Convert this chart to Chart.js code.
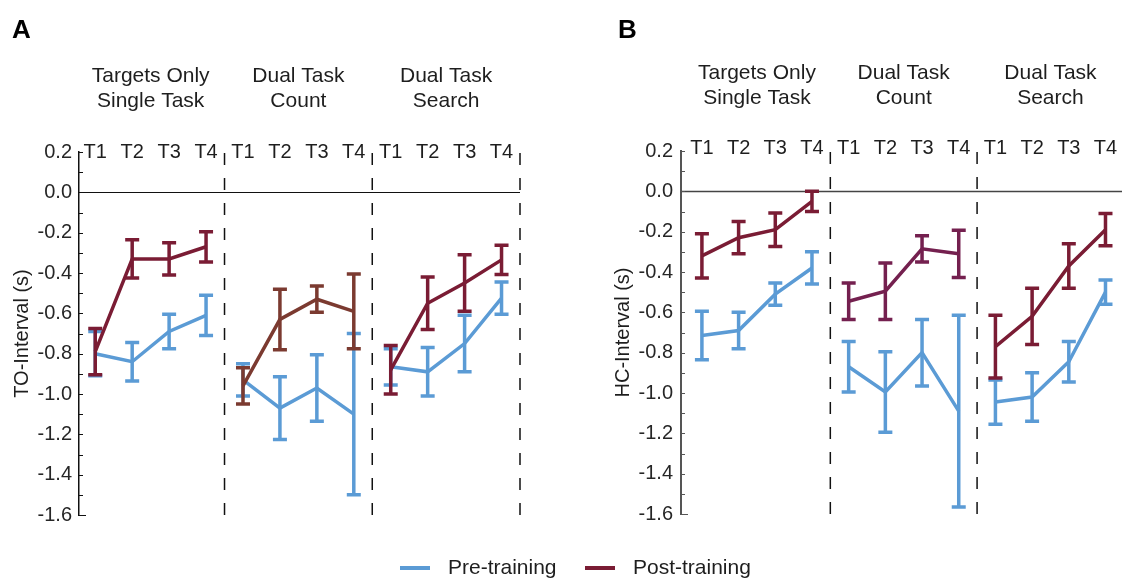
<!DOCTYPE html>
<html>
<head>
<meta charset="utf-8">
<script src="https://cdn.jsdelivr.net/npm/chart.js@4.4.1/dist/chart.umd.min.js"></script>
<style>
  html, body { margin: 0; padding: 0; background: #fff; }
  body { width: 1122px; height: 578px; overflow: hidden; position: relative;
         font-family: 'Liberation Sans', Arial, sans-serif; color: #1e1e1e; }
  canvas { position: absolute; top: 0; }
  #chartTO { left: 0; }
  #chartHC { left: 561px; }
  .sw { position: absolute; top: 566px; width: 30px; height: 4px; }
  .lt { position: absolute; top: 555px; font-size: 21px; line-height: 24px; white-space: nowrap; }
</style>
</head>
<body>
<canvas id="chartTO" width="561" height="578"></canvas>
<canvas id="chartHC" width="561" height="578"></canvas>

<div class="sw" style="left:400px;background:#5b9bd5"></div>
<div class="lt" style="left:448px">Pre-training</div>
<div class="sw" style="left:585px;background:#7a1c34"></div>
<div class="lt" style="left:633px">Post-training</div>

<script>
// Sessions and task conditions (4 sessions per condition)
const sessions = ['T1', 'T2', 'T3', 'T4'];
const conditions = [['Targets Only', 'Single Task'], ['Dual Task', 'Count'], ['Dual Task', 'Search']];
const yMin = -1.6, yMax = 0.2, yStep = 0.2;

// Panel A: TO-Interval (s), means and error half-widths, 12 points = 3 conditions x 4 sessions
const toPreMean  = [-0.80, -0.84, -0.69, -0.61,  -0.93, -1.07, -0.97, -1.10,  -0.865, -0.89, -0.75, -0.525];
const toPreErr   = [ 0.11,  0.095, 0.085, 0.10,   0.08,  0.155, 0.165, 0.40,   0.09,  0.12,  0.14,  0.08];
const toPostMean = [-0.79, -0.33, -0.33, -0.27,  -0.96, -0.63, -0.53, -0.59,  -0.88, -0.55, -0.45, -0.335];
const toPostErr  = [ 0.115, 0.095, 0.08, 0.075,   0.09,  0.15,  0.065, 0.185,  0.12,  0.13,  0.14,  0.072];

// Panel B: HC-Interval (s)
const hcPreMean  = [-0.715, -0.69, -0.51, -0.38,  -0.87, -0.995, -0.80, -1.09,  -1.045, -1.02, -0.845, -0.50];
const hcPreErr   = [ 0.12,  0.09,  0.055, 0.08,    0.125, 0.20,   0.165, 0.475,  0.11,   0.12,  0.10,  0.06];
const hcPostMean = [-0.32, -0.23, -0.19, -0.05,   -0.545, -0.495, -0.285, -0.31, -0.77, -0.62, -0.37, -0.19];
const hcPostErr  = [ 0.11,  0.08,  0.083, 0.05,    0.09,  0.14,   0.065, 0.117,  0.155, 0.14,  0.11,  0.08];

const BLUE = '#5b9bd5';
const MAROON = '#7a1c34';
const FONT = "'Liberation Sans', Arial, sans-serif";

function buildDatasets(preMean, preErr, postMean, postErr, postColors) {
  const sets = [];
  // post-training series first so it is painted above the pre-training series
  for (let g = 0; g < conditions.length; g++) {
    const pts = [], errs = [];
    sessions.forEach((s, i) => { const k = g * 4 + i; pts.push({ x: k, y: postMean[k] }); errs.push(postErr[k]); });
    sets.push({ label: 'Post-training', data: pts, errors: errs, borderColor: postColors[g] });
  }
  for (let g = 0; g < conditions.length; g++) {
    const pts = [], errs = [];
    sessions.forEach((s, i) => { const k = g * 4 + i; pts.push({ x: k, y: preMean[k] }); errs.push(preErr[k]); });
    sets.push({ label: 'Pre-training', data: pts, errors: errs, borderColor: BLUE });
  }
  sets.forEach(d => Object.assign(d, { borderWidth: 3.5, pointRadius: 0, fill: false, tension: 0 }));
  return sets;
}

// Decorations: zero line, dashed condition separators, minor ticks, error bars and header text
const decor = {
  id: 'decor',
  beforeDatasetsDraw(chart, args, o) {
    const { ctx, chartArea: a, scales: { x, y } } = chart;
    ctx.save();
    // zero reference line
    const y0 = Math.round(y.getPixelForValue(0)) + 0.5;
    ctx.strokeStyle = o.zeroColor; ctx.lineWidth = o.zeroWidth;
    ctx.beginPath(); ctx.moveTo(a.left, y0); ctx.lineTo(a.right, y0); ctx.stroke();
    // dashed separators between conditions, dashed from the bottom edge upward
    ctx.strokeStyle = '#111'; ctx.lineWidth = 1.5; ctx.setLineDash([12, 13]);
    [3.5, 7.5, 11.5].forEach(v => {
      if (v > x.max) return;
      const px = x.getPixelForValue(v);
      ctx.beginPath(); ctx.moveTo(px, a.bottom); ctx.lineTo(px, a.top - 2); ctx.stroke();
    });
    ctx.setLineDash([]);
    // small inward ticks every 0.1 on the value axis
    ctx.strokeStyle = o.axisColor; ctx.lineWidth = 1;
    for (let i = 0; i <= 18; i++) {
      const v = yMin + i * 0.1;
      const py = Math.round(y.getPixelForValue(v)) + 0.5;
      const len = (i === 0) ? 7 : 4;
      ctx.beginPath(); ctx.moveTo(a.left, py); ctx.lineTo(a.left + len, py); ctx.stroke();
    }
    ctx.restore();
  },
  afterDatasetDraw(chart, args) {
    const ds = chart.data.datasets[args.index];
    const { ctx, scales: { x, y } } = chart;
    ctx.save();
    ctx.strokeStyle = ds.borderColor; ctx.lineWidth = 3.5; ctx.lineCap = 'butt';
    ds.data.forEach((p, i) => {
      const e = ds.errors[i];
      const px = x.getPixelForValue(p.x);
      const top = y.getPixelForValue(p.y + e), bot = y.getPixelForValue(p.y - e);
      ctx.beginPath();
      ctx.moveTo(px, top); ctx.lineTo(px, bot);
      ctx.moveTo(px - 7, top); ctx.lineTo(px + 7, top);
      ctx.moveTo(px - 7, bot); ctx.lineTo(px + 7, bot);
      ctx.stroke();
    });
    ctx.restore();
  },
  afterDraw(chart, args, o) {
    const { ctx, scales: { x } } = chart;
    ctx.save();
    ctx.fillStyle = '#1e1e1e'; ctx.textAlign = 'center'; ctx.textBaseline = 'alphabetic';
    // session labels along the top edge
    ctx.font = '20px ' + FONT;
    for (let k = 0; k < 12; k++) {
      ctx.fillText(sessions[k % 4], x.getPixelForValue(k), o.sessionBase);
    }
    // condition headers
    ctx.font = '21px ' + FONT;
    conditions.forEach((lines, g) => {
      const cx = x.getPixelForValue(g * 4 + 1.5);
      lines.forEach((t, j) => ctx.fillText(t, cx, o.headBase + j * 25));
    });
    // panel letter
    ctx.textAlign = 'left';
    ctx.font = 'bold 26px ' + FONT;
    ctx.fillStyle = '#000';
    ctx.fillText(o.letter, o.letterX, 38);
    ctx.restore();
  }
};

function makeChart(id, cfg) {
  return new Chart(document.getElementById(id), {
    type: 'line',
    data: { datasets: buildDatasets(cfg.preMean, cfg.preErr, cfg.postMean, cfg.postErr, cfg.postColors) },
    options: {
      responsive: false, animation: false, devicePixelRatio: 1,
      layout: { padding: { left: cfg.padLeft, right: cfg.padRight, top: cfg.padTop, bottom: cfg.padBottom } },
      plugins: {
        legend: { display: false }, tooltip: { enabled: false },
        decor: { letter: cfg.letter, letterX: cfg.letterX, sessionBase: cfg.sessionBase, headBase: cfg.headBase,
                 axisColor: cfg.axisColor, zeroColor: cfg.zeroColor, zeroWidth: cfg.zeroWidth }
      },
      scales: {
        x: { type: 'linear', min: cfg.xMin, max: cfg.xMax, display: false },
        y: {
          min: yMin, max: yMax,
          afterFit: s => { s.width = cfg.axisWidth; },
          ticks: {
            stepSize: yStep, padding: cfg.tickPad, color: '#262626',
            font: { family: FONT, size: 20 },
            callback: v => (Math.abs(v) < 1e-9 ? 0 : v).toFixed(1)
          },
          grid: { display: false, drawTicks: false },
          border: { display: true, color: cfg.axisColor, width: cfg.axisLine },
          title: { display: true, text: cfg.yTitle, color: '#1e1e1e', font: { family: FONT, size: 20 },
                   padding: { top: 10, bottom: 0 } }
        }
      }
    },
    plugins: [decor]
  });
}

makeChart('chartTO', {
  preMean: toPreMean, preErr: toPreErr, postMean: toPostMean, postErr: toPostErr,
  postColors: [MAROON, '#7b3a30', MAROON],
  yTitle: 'TO-Interval (s)', letter: 'A', letterX: 12,
  padLeft: 0, padRight: 41, padTop: 152, padBottom: 63, axisWidth: 79, tickPad: 7,
  xMin: -0.44, xMax: 11.5, sessionBase: 158, headBase: 82,
  axisColor: '#111', axisLine: 1.5, zeroColor: '#111', zeroWidth: 1
});

makeChart('chartHC', {
  preMean: hcPreMean, preErr: hcPreErr, postMean: hcPostMean, postErr: hcPostErr,
  postColors: [MAROON, '#74204f', MAROON],
  yTitle: 'HC-Interval (s)', letter: 'B', letterX: 57,
  padLeft: 40, padRight: 0, padTop: 151, padBottom: 64, axisWidth: 80, tickPad: 8,
  xMin: -0.57, xMax: 11.45, sessionBase: 154, headBase: 79,
  axisColor: '#555', axisLine: 2, zeroColor: '#444', zeroWidth: 1.5
});
</script>
</body>
</html>
